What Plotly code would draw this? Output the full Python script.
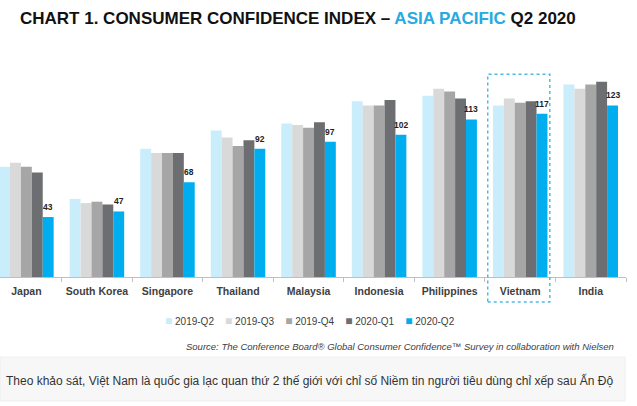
import plotly.graph_objects as go

countries = ["Japan", "South Korea", "Singapore", "Thailand", "Malaysia",
             "Indonesia", "Philippines", "Vietnam", "India"]
quarters = ["2019-Q2", "2019-Q3", "2019-Q4", "2020-Q1", "2020-Q2"]
q2_2019 = [79, 56, 92, 105, 110, 126, 130, 123, 138]
q3_2019 = [82, 53, 89, 100, 109, 123, 135, 128, 135]
q4_2019 = [79, 54, 89, 94, 107, 123, 133, 125, 138]
q1_2020 = [75, 52, 89, 98, 111, 127, 128, 126, 140]
q2_2020 = [43, 47, 68, 92, 97, 102, 113, 117, 123]
series = [q2_2019, q3_2019, q4_2019, q1_2020, q2_2020]
colors = ["#c9edfa", "#d9d9d9", "#a6a6a6", "#6d6e71", "#00aeef"]

FONT = "Liberation Sans, Arial, sans-serif"

fig = go.Figure()
for name, vals, col in zip(quarters, series, colors):
    fig.add_trace(go.Bar(x=countries, y=vals, name=name, marker_color=col,
                         marker_line_width=0, showlegend=False))

# value labels on the latest quarter
for c, v in zip(countries, q2_2020):
    fig.add_annotation(x=c, y=v, text=f"<b>{v}</b>", showarrow=False,
                       xshift=21.8, yshift=3, yanchor="bottom",
                       font=dict(family=FONT, size=8.5, color="#222222"))

# title
fig.add_annotation(
    xref="paper", yref="paper", x=17.5 / 626, y=1.191, xanchor="left", yanchor="middle",
    text="<b>CHART 1. CONSUMER CONFIDENCE INDEX – "
         "<span style='color:#27aae1'>ASIA PACIFIC</span> Q2 2020</b>",
    showarrow=False, font=dict(family=FONT, size=17, color="#111111"))

# legend built as a text row
sp = "\u00a0"
legend_txt = (sp * 4).join(
    f"<span style='color:{col};font-size:12px'>■</span>{sp}{name}"
    for name, col in zip(quarters, colors))
fig.add_annotation(xref="paper", yref="paper", x=310 / 626, y=-0.203,
                   xanchor="center", yanchor="middle", text=legend_txt, showarrow=False,
                   font=dict(family=FONT, size=10, color="#404040"))

# source line
fig.add_annotation(
    xref="paper", yref="paper", x=616 / 626, y=-0.318, xanchor="right", yanchor="middle",
    text="<i>Source: The Conference Board® Global Consumer Confidence™ Survey "
         "in collaboration with Nielsen</i>",
    showarrow=False, font=dict(family=FONT, size=9.5, color="#404040"))

# caption box
fig.add_shape(type="rect", xref="paper", yref="paper", x0=0, x1=625 / 626,
              y0=-0.571, y1=-0.369, fillcolor="#f7f7f7",
              line=dict(color="#eeeeee", width=1), layer="below")
fig.add_annotation(
    xref="paper", yref="paper", x=4 / 626, y=-0.475, xanchor="left", yanchor="middle",
    text="Theo khảo sát, Việt Nam là quốc gia lạc quan thứ 2 thế giới với chỉ số "
         "Niềm tin người tiêu dùng chỉ xếp sau Ấn Độ",
    showarrow=False, font=dict(family=FONT, size=12, color="#333333"))

# highlight box around Vietnam
fig.add_shape(type="rect", xref="x", yref="paper", x0=7 - 0.46, x1=7 + 0.42,
              y0=-0.115, y1=0.934, line=dict(color="#4fb9e3", width=1.5, dash="dot"),
              fillcolor="rgba(0,0,0,0)")

fig.update_layout(
    width=637, height=406,
    margin=dict(l=0, r=11, t=60, b=129),
    paper_bgcolor="white", plot_bgcolor="white",
    barmode="group", bargap=0.227, bargroupgap=0,
    font=dict(family=FONT),
    xaxis=dict(range=[-0.374, 8.5], showline=True, linecolor="#bfbfbf", linewidth=1,
               ticks="outside", tickson="boundaries", ticklen=4, tickcolor="#bfbfbf",
               showgrid=False, tickangle=0, automargin=False,
               tickfont=dict(family=FONT, size=10.5, color="#404040"),
               ticklabelstandoff=4, tickprefix="<b>", ticksuffix="</b>"),
    yaxis=dict(range=[0, 155.6], visible=False, showgrid=False, automargin=False),
)

fig.write_html("out.html", config={"displayModeBar": False},
               post_script="document.body.style.margin='0';")
